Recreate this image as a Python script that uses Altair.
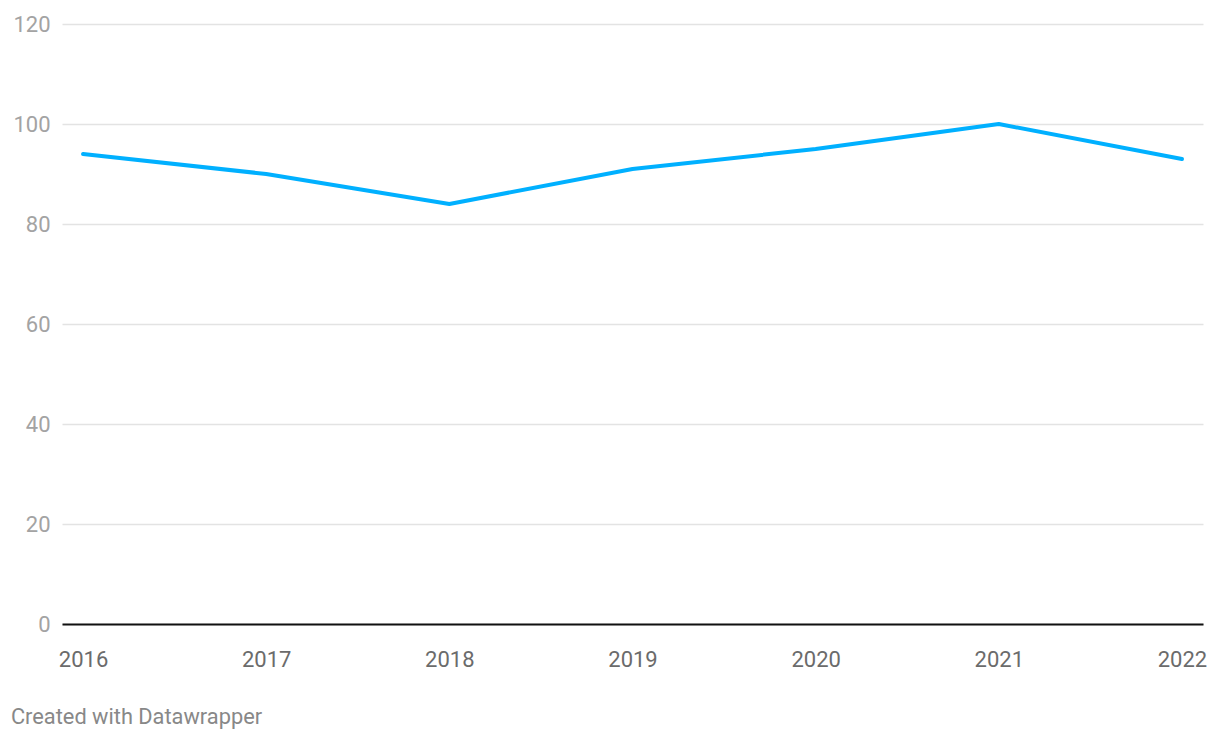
import altair as alt
import pandas as pd

years = ["2016", "2017", "2018", "2019", "2020", "2021", "2022"]
values = [94, 90, 84, 91, 95, 100, 93]
y_ticks = [0, 20, 40, 60, 80, 100, 120]

df = pd.DataFrame({"year": years, "value": values})

FONT = "Roboto"

chart = alt.Chart(df).mark_line(
    color="#00b0ff", strokeWidth=4, strokeJoin="round", strokeCap="round"
).encode(
    x=alt.X(
        "year:O",
        scale=alt.Scale(type="point", padding=0.115),
        axis=alt.Axis(
            title=None, labelAngle=0, ticks=False, tickSize=0,
            domain=True, domainColor="#111111", domainWidth=2,
            labelFont=FONT, labelFontSize=22, labelColor="#6b6b6b",
            labelPadding=25, grid=False,
        ),
    ),
    y=alt.Y(
        "value:Q",
        scale=alt.Scale(domain=[0, 120], nice=False, zero=True),
        axis=alt.Axis(
            title=None, values=y_ticks, ticks=False, tickSize=0, domain=False,
            grid=True, gridColor="#e3e3e3", gridWidth=1.5,
            labelFont=FONT, labelFontSize=22, labelColor="#a3a3a3",
            labelPadding=12, labelAlign="right", labelBaseline="middle",
        ),
    ),
).properties(
    width=1141,
    height=600,
    background="white",
    title=alt.TitleParams(
        text="Created with Datawrapper", orient="bottom", anchor="start",
        dx=-2, offset=37, font=FONT, fontSize=21.8, fontWeight="normal",
        color="#888888",
    ),
    autosize=alt.AutoSizeParams(type="none"),
    padding={"left": 54, "top": 16, "right": 9, "bottom": 108},
).configure_view(strokeWidth=0, stroke="transparent")

chart.save("out.html", embed_options={"renderer": "svg", "actions": False})
